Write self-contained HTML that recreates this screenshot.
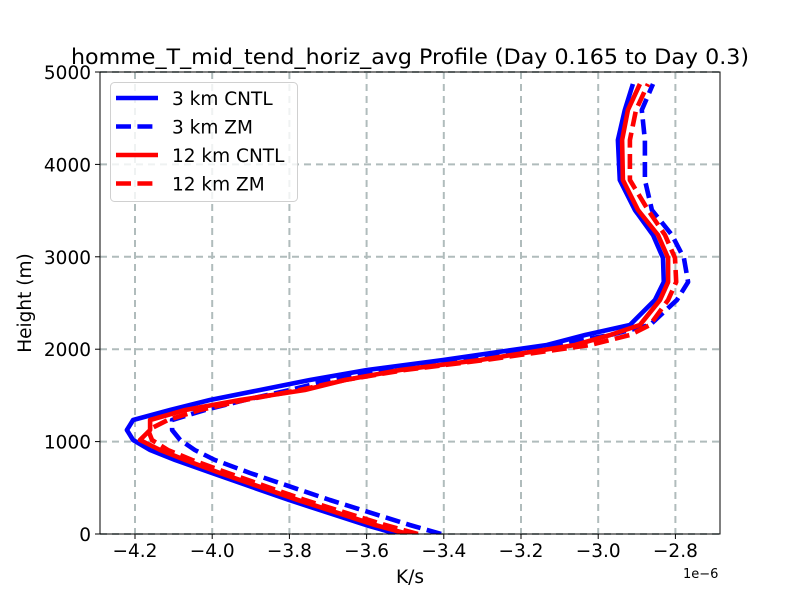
<!DOCTYPE html>
<html><head><meta charset="utf-8"><style>
html,body{margin:0;padding:0;background:#fff;}
svg text{font-family:"DejaVu Sans","Liberation Sans",sans-serif;fill:#000;}
</style></head><body>
<svg id="chart" width="800" height="600" xmlns="http://www.w3.org/2000/svg"></svg>
<script>
const heights = [0,97,368,660,801,909,1017,1126,1234,1342,1450,1558,1667,1775,1883,2045,2154,2262,2532,2727,2987,3236,3506,3831,4264,4589,4870];
const blueCntl = [-3.521,-3.602,-3.801,-4.001,-4.096,-4.161,-4.205,-4.221,-4.205,-4.109,-4.006,-3.876,-3.747,-3.599,-3.402,-3.133,-3.034,-2.918,-2.853,-2.830,-2.832,-2.858,-2.905,-2.944,-2.949,-2.931,-2.910];
const blueZm = [-3.407,-3.488,-3.695,-3.902,-3.993,-4.045,-4.083,-4.104,-4.104,-4.019,-3.915,-3.798,-3.695,-3.578,-3.371,-3.125,-2.969,-2.866,-2.796,-2.767,-2.778,-2.809,-2.861,-2.879,-2.879,-2.887,-2.858];
const redCntl = [-3.493,-3.578,-3.778,-3.980,-4.070,-4.135,-4.187,-4.161,-4.161,-4.070,-3.928,-3.760,-3.656,-3.513,-3.306,-3.060,-2.969,-2.892,-2.840,-2.819,-2.819,-2.845,-2.897,-2.936,-2.938,-2.923,-2.892];
const redZm = [-3.467,-3.552,-3.760,-3.959,-4.052,-4.115,-4.156,-4.166,-4.115,-4.032,-3.915,-3.773,-3.656,-3.501,-3.293,-3.021,-2.918,-2.866,-2.819,-2.798,-2.801,-2.827,-2.871,-2.918,-2.918,-2.902,-2.871];
const xTicks = [-4.2,-4.0,-3.8,-3.6,-3.4,-3.2,-3.0,-2.8];
const xTickLabels = ["\u22124.2","\u22124.0","\u22123.8","\u22123.6","\u22123.4","\u22123.2","\u22123.0","\u22122.8"];
const yTicks = [0,1000,2000,3000,4000,5000];
const seriesNames = ["3 km CNTL","3 km ZM","12 km CNTL","12 km ZM"];

const L=100,R=720,T=72,B=534;
function xs(v){return 135+(v+4.2)*386;}
function ys(h){return B-h*(B-T)/5000;}
const NS="http://www.w3.org/2000/svg";
const svg=document.getElementById('chart');
function mk(tag,attrs,parent){const e=document.createElementNS(NS,tag);for(const k in attrs)e.setAttribute(k,attrs[k]);(parent||svg).appendChild(e);return e;}

const grid=mk('g',{});


xTicks.forEach(v=>{const l=mk('line',{x1:xs(v),x2:xs(v),y1:T,y2:B,stroke:'#b0bcbc','stroke-width':2,'stroke-dasharray':'7,5'},grid);

});
yTicks.forEach(v=>{const l=mk('line',{x1:L,x2:R,y1:ys(v),y2:ys(v),stroke:'#b0bcbc','stroke-width':2,'stroke-dasharray':'7,5'},grid);

});

const colors=['#0000ff','#0000ff','#ff0000','#ff0000'];
const dashes=['none','15,6.4','none','15,6.4'];
const data=[blueCntl,blueZm,redCntl,redZm];
const clip=mk('clipPath',{id:'clip'});mk('rect',{x:L,y:T,width:R-L,height:B-T},clip);
data.forEach((arr,i)=>{
  const d=arr.map((v,j)=>(j?'L':'M')+xs(v).toFixed(1)+','+ys(heights[j]).toFixed(1)).join(' ');
  const p=mk('path',{d:d,fill:'none',stroke:colors[i],'stroke-width':4.6,'stroke-dasharray':dashes[i],'stroke-linejoin':'round','clip-path':'url(#clip)'});
  
  
});

const fr=mk('rect',{x:L,y:T,width:R-L,height:B-T,fill:'none',stroke:'#000','stroke-width':1});



xTicks.forEach((v,i)=>{mk('line',{x1:xs(v),x2:xs(v),y1:B,y2:B+5,stroke:'#000'});
const t=mk('text',{x:xs(v),y:B+23,'text-anchor':'middle','font-size':18.5});t.textContent=xTickLabels[i];

});
yTicks.forEach(v=>{mk('line',{x1:L-5,x2:L,y1:ys(v),y2:ys(v),stroke:'#000'});
const t=mk('text',{x:L-9,y:ys(v)+7,'text-anchor':'end','font-size':18.5});t.textContent=v;

});

let t=mk('text',{x:683,y:578,'font-size':13});t.textContent='1e\u22126';


t=mk('text',{x:410,y:583,'text-anchor':'middle','font-size':18.5});t.textContent='K/s';


t=mk('text',{x:31,y:303,'text-anchor':'middle','font-size':18.5,transform:'rotate(-90 31 303)'});t.textContent='Height (m)';


t=mk('text',{x:410,y:64,'text-anchor':'middle','font-size':21.5,textLength:678,lengthAdjust:'spacingAndGlyphs'});t.textContent='homme_T_mid_tend_horiz_avg Profile (Day 0.165 to Day 0.3)';



const lg=mk('g',{});


mk('rect',{x:110.5,y:82.5,width:187,height:119,rx:4,fill:'#fff','fill-opacity':0.8,stroke:'#d0d0d0'},lg);
seriesNames.forEach((n,i)=>{
  const y=98+i*28.5;
  const e=mk('g',{},lg);
  
  
  mk('line',{x1:116,x2:158,y1:y,y2:y,stroke:colors[i],'stroke-width':4.6,'stroke-dasharray':dashes[i]==='none'?'none':'15,6.4'},e);
  const tx=mk('text',{x:172,y:y+7,'font-size':18.5},e);tx.textContent=n;
});
</script>
</body></html>
